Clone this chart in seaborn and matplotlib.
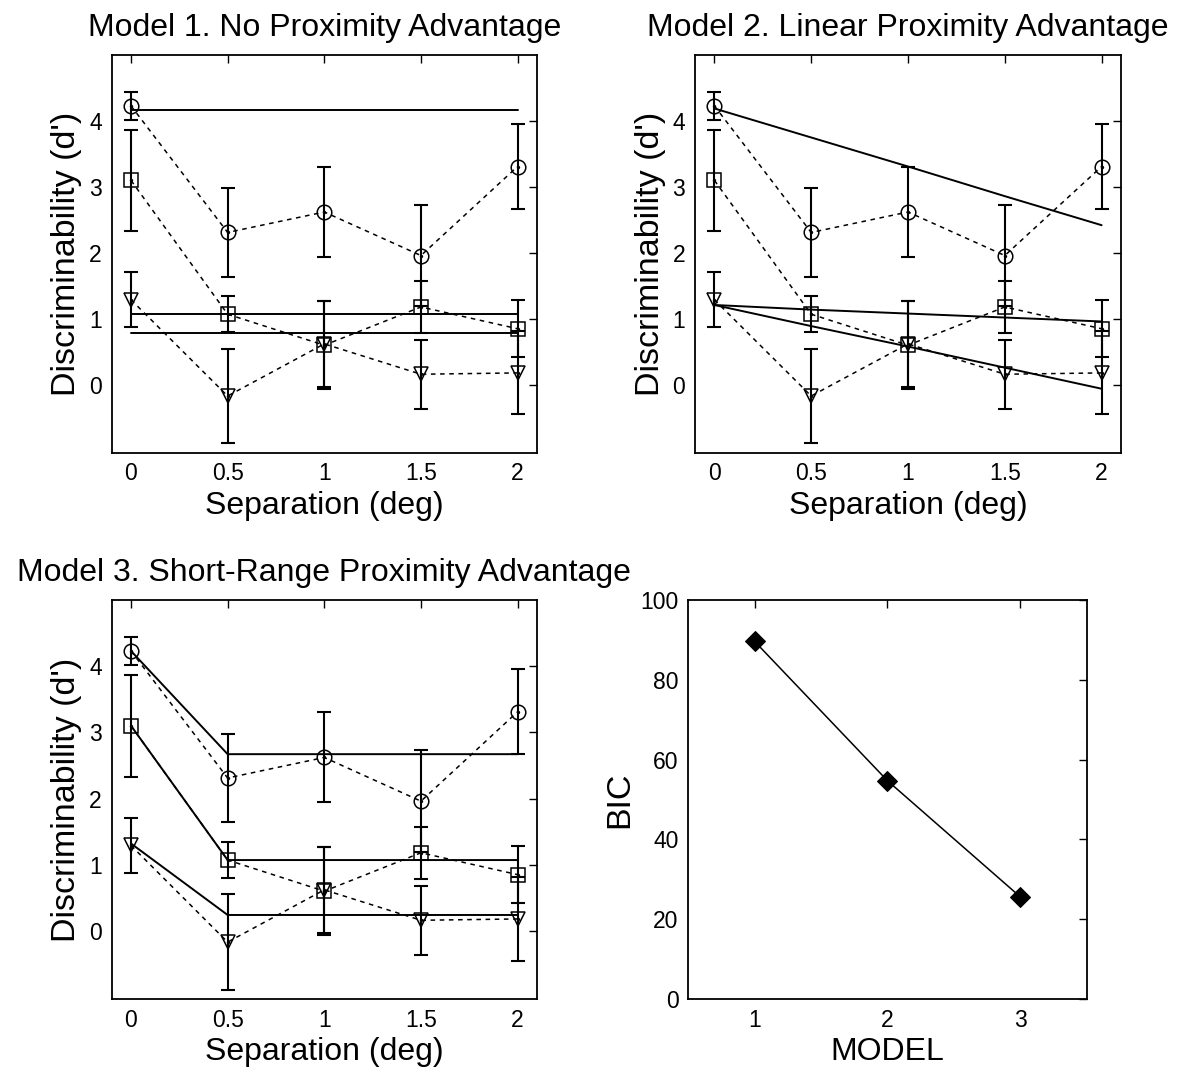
import numpy as np
import pandas as pd
import matplotlib
matplotlib.use("Agg")
import matplotlib.pyplot as plt
import seaborn as sns

sns.set_style("white")
plt.rcParams['font.family'] = ['Liberation Sans', 'DejaVu Sans']
plt.rcParams['text.color'] = 'black'
plt.rcParams['axes.labelcolor'] = 'black'
plt.rcParams['xtick.color'] = 'black'
plt.rcParams['ytick.color'] = 'black'

# Data
separation = [0, 0.5, 1, 1.5, 2]

circle_d = [4.23, 2.31, 2.62, 1.96, 3.31]
circle_err = [0.21, 0.67, 0.68, 0.77, 0.64]
square_d = [3.10, 1.07, 0.60, 1.18, 0.85]
square_err = [0.77, 0.27, 0.67, 0.39, 0.43]
triangle_d = [1.29, -0.17, 0.62, 0.16, 0.18]
triangle_err = [0.42, 0.72, 0.65, 0.52, 0.63]

# model fits (value at each separation)
m1_circle = [4.17, 4.17, 4.17, 4.17, 4.17]
m1_square = [1.07, 1.07, 1.07, 1.07, 1.07]
m1_triangle = [0.78, 0.78, 0.78, 0.78, 0.78]

m2_circle = [4.19, 3.75, 3.31, 2.86, 2.42]
m2_square = [1.21, 1.14, 1.08, 1.02, 0.96]
m2_triangle = [1.21, 0.89, 0.58, 0.26, -0.06]

m3_circle = [4.23, 2.67, 2.67, 2.67, 2.67]
m3_square = [3.10, 1.07, 1.07, 1.07, 1.07]
m3_triangle = [1.32, 0.24, 0.24, 0.24, 0.24]

models = [1, 2, 3]
bic = [89.6, 54.7, 25.6]

titles = ["Model 1. No Proximity Advantage",
          "Model 2. Linear Proximity Advantage",
          "Model 3. Short-Range Proximity Advantage"]

obs = [(circle_d, circle_err, 'o'), (square_d, square_err, 's'),
       (triangle_d, triangle_err, 'v')]
fits = [(m1_circle, m1_square, m1_triangle),
        (m2_circle, m2_square, m2_triangle),
        (m3_circle, m3_square, m3_triangle)]

fig = plt.figure(figsize=(11.79, 10.71), dpi=100)
positions = [[0.0947, 0.5773, 0.3607, 0.3713],
             [0.5895, 0.5773, 0.3613, 0.3713],
             [0.0947, 0.0672, 0.3607, 0.3726]]


def style_box(ax):
    for s in ax.spines.values():
        s.set_visible(True)
        s.set_color('black')
        s.set_linewidth(1.3)
    ax.tick_params(direction='in', length=6, width=1, top=True, right=True,
                   labelsize=16.5, pad=7, colors='black')


for k in range(3):
    ax = fig.add_axes(positions[k])
    for vals, err, mk in obs:
        ax.errorbar(separation, vals, yerr=err, fmt='none', ecolor='black',
                    elinewidth=1.5, capsize=5, capthick=1.5, zorder=3)
        sns.lineplot(x=separation, y=vals, ax=ax, color='black',
                     linestyle=(0, (3, 3)), linewidth=1.1, marker=mk,
                     markersize=10.5, markerfacecolor='none',
                     markeredgecolor='black', markeredgewidth=1.1, zorder=4)
        # small centre dots as in the original
        sns.scatterplot(x=separation, y=vals, ax=ax, color='black', s=6,
                        linewidth=0, zorder=6)
    for fit in fits[k]:
        sns.lineplot(x=separation, y=fit, ax=ax, color='black',
                     linewidth=1.4, zorder=5)
    ax.set_xlim(-0.1, 2.1)
    ax.set_ylim(-1.03, 5.0)
    ax.set_xticks(separation)
    ax.set_xticklabels(['0', '0.5', '1', '1.5', '2'])
    ax.set_yticks([0, 1, 2, 3, 4])
    ax.set_xlabel("Separation (deg)", fontsize=23, labelpad=4)
    ax.set_ylabel("Discriminability (d')", fontsize=24.5, labelpad=5)
    ax.set_title(titles[k], fontsize=23, pad=14)
    style_box(ax)

ax4 = fig.add_axes([0.5838, 0.0672, 0.3379, 0.3726])
sns.lineplot(x=models, y=bic, ax=ax4, color='black', linewidth=1.1,
             marker='D', markersize=10, markerfacecolor='black',
             markeredgecolor='black')
ax4.set_xlim(0.5, 3.5)
ax4.set_ylim(0, 100)
ax4.set_xticks(models)
ax4.set_yticks([0, 20, 40, 60, 80, 100])
ax4.set_xlabel("MODEL", fontsize=23, labelpad=4)
ax4.set_ylabel("BIC", fontsize=24.5, labelpad=4)
style_box(ax4)

fig.savefig("out.png", dpi=100)
